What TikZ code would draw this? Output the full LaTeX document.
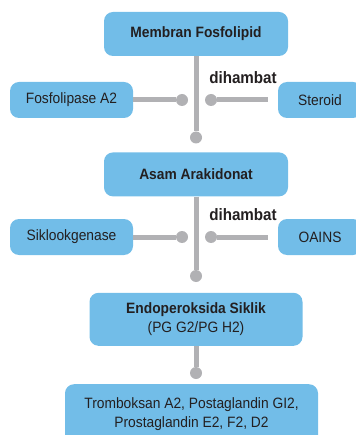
\documentclass[tikz,border=0pt]{standalone}
\usepackage{fontspec}
\setmainfont{Liberation Sans}[FakeStretch=0.92]
\usetikzlibrary{positioning}
\definecolor{boxblue}{RGB}{114,189,232}
\definecolor{linegray}{RGB}{177,177,180}
\definecolor{txt}{RGB}{35,31,32}
\tikzset{box/.style={fill=boxblue,rounded corners=9pt,text=txt,align=center,inner sep=0pt,font=\fontsize{15}{19}\selectfont},
  mainbox/.style={box,minimum width=184pt,minimum height=44pt},
  sidebox/.style={box,minimum width=123pt,minimum height=36pt},
  link/.style={draw=linegray,line width=5pt},
  dot/.style={circle,fill=linegray,inner sep=0pt,minimum size=12pt},
  note/.style={text=txt,font=\bfseries\fontsize{16.5}{19}\selectfont}}

\begin{document}
\begin{tikzpicture}[x=1pt,y=1pt,node distance=96pt]
              \useasboundingbox (0,0) rectangle (355,-435);

              \node[mainbox] (membran) at (196,-34) {\bfseries Membran Fosfolipid};
              \node[mainbox] (asam) [below=of membran] {\bfseries Asam Arakidonat};
              \node[mainbox,minimum width=213pt,minimum height=53pt] (endo) [below=of asam] {{\bfseries Endoperoksida Siklik}\\(PG G2/PG H2)};
              \node[mainbox,minimum width=253pt,minimum height=60pt] (trom) [below=38pt of endo,xshift=-4.5pt] {Tromboksan A2, Postaglandin GI2,\\Prostaglandin E2, F2, D2};

              \node[sidebox] (fosfo) at (71.5,-100) {Fosfolipase A2};
              \node[sidebox,minimum width=84pt] (steroid) at (320,-100) {Steroid};
              \node[sidebox] (siklo) at (71.5,-237) {Siklookgenase};
              \node[sidebox,minimum width=84pt] (oains) at (320,-237) {OAINS};

              \node[note] (hambat1) at (243,-78) {dihambat};
              \node[note] (hambat2) at (243,-215) {dihambat};

              \node[dot] (m1) at (196,-137.5) {};
              \node[dot] (a1) at (196,-276) {};
              \node[dot] (e1) at (196,-373) {};
              \node[dot] (f1) at (182,-100) {};
              \node[dot] (s1) at (211,-100) {};
              \node[dot] (k1) at (182,-237) {};
              \node[dot] (o1) at (211,-237) {};

              \path[link]
              (membran) edge (m1)
              (fosfo) edge (f1)
              (steroid) edge [shorten <=10pt] (s1)

              (asam) edge (a1)
              (siklo) edge (k1)
              (oains) edge [shorten <=10pt] (o1)

              (endo) edge (e1)
              ;
            \end{tikzpicture}
\end{document}
